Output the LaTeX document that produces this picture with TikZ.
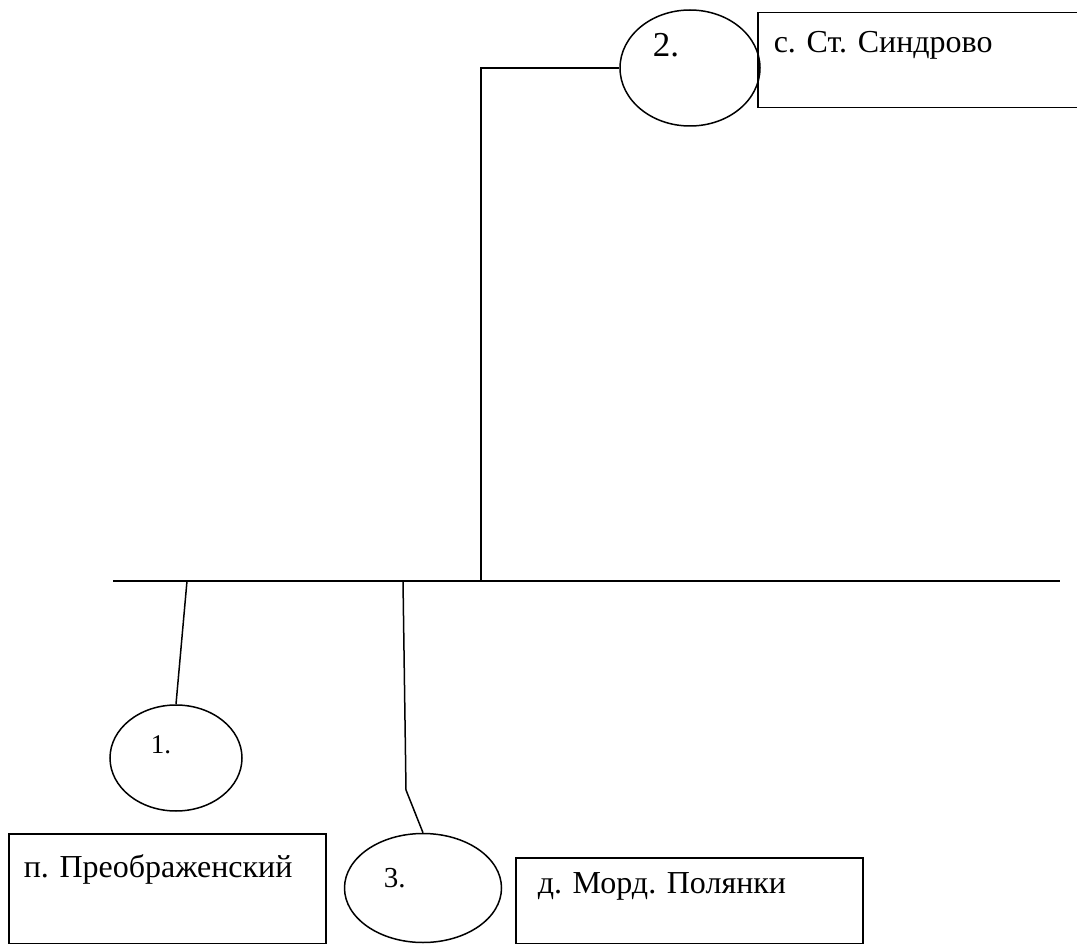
\documentclass[tikz,border=0pt]{standalone}
\usepackage{fontspec}
\setmainfont{Liberation Serif}
\usetikzlibrary{shapes.geometric}
\frenchspacing

\tikzset{
  village/.style={draw, rectangle, anchor=north west, align=left,
    inner ysep=8pt, font=\fontsize{32}{36}\selectfont},
  point/.style={draw, ellipse, inner sep=0pt},
  pointnum/.style={anchor=base west, inner sep=0pt}
}

\begin{document}
\begin{tikzpicture}[x=1pt, y=-1pt, line width=1.5pt]
  \useasboundingbox (0,0) rectangle (1077,944);
  \clip (0,0) rectangle (1077,944);
  % villages
  \node[village, inner xsep=16pt, text width=328pt, text height=32pt, text depth=47pt] (b2) at (757,12) {с. Ст. Синдрово};
  \node[village, inner xsep=15pt, text width=287pt, text height=36pt, text depth=58pt] (b1) at (8,833) {п. Преображенский};
  \node[village, inner xsep=22pt, text width=303pt, text height=28pt, text depth=42pt] (b3) at (515,857) {д. Морд. Полянки};
  % numbered points
  \node[point, minimum width=140pt, minimum height=116pt] (e2) at (690,68) {};
  \node[point, minimum width=132pt, minimum height=106pt] (e1) at (176,758) {};
  \node[point, minimum width=157pt, minimum height=109pt] (e3) at (423,888) {};
  \node[pointnum, font=\fontsize{35}{40}\selectfont] (n2) at ([xshift=-38pt, yshift=11pt]e2.center) {2.};
  \node[pointnum, font=\fontsize{27}{32}\selectfont] (n1) at ([xshift=-26pt, yshift=5pt]e1.center) {1.};
  \node[pointnum, font=\fontsize{29}{34}\selectfont] (n3) at ([xshift=-40pt, yshift=1pt]e3.center) {3.};
  % main line
  \coordinate (w) at (113,581);
  \coordinate (e) at (1060,581);
  \draw (w) -- (e);
  % branches
  \coordinate (j1) at (187,581);
  \coordinate (j2) at (481,581);
  \coordinate (j3) at (403,581);
  \draw (j1) -- (e1.north);
  \draw (j2) |- (e2.west);
  \draw (j3) -- (406,790) -- (e3.north);
\end{tikzpicture}
\end{document}
